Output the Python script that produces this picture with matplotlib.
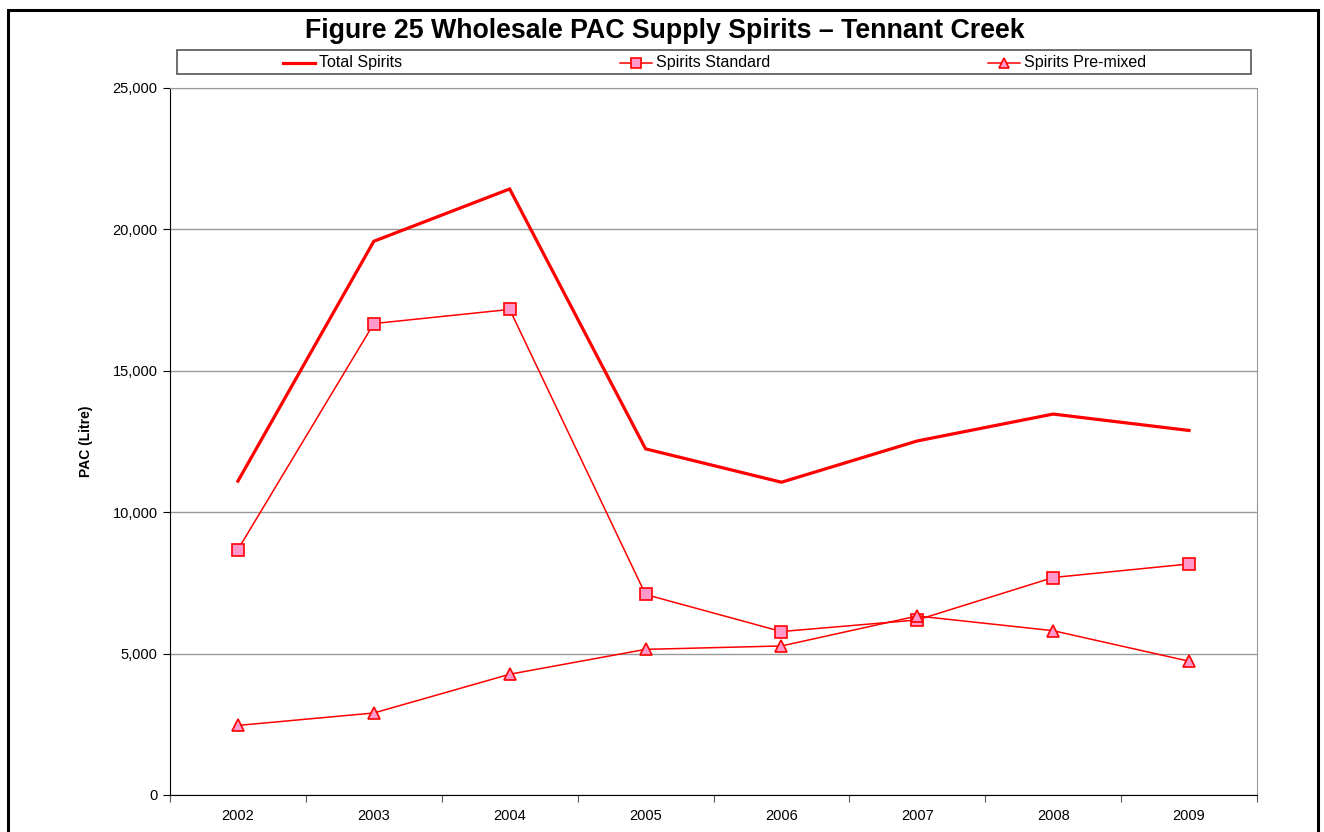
import numpy as np
import matplotlib
matplotlib.use("Agg")
import matplotlib.pyplot as plt
from matplotlib.lines import Line2D
from matplotlib.patches import Rectangle
from matplotlib.ticker import FuncFormatter, FixedLocator

plt.rcParams['font.family'] = ['Liberation Sans', 'DejaVu Sans']

years = ["2002", "2003", "2004", "2005", "2006", "2007", "2008", "2009"]
total_spirits = [11100, 19580, 21430, 12240, 11060, 12520, 13470, 12890]
spirits_standard = [8680, 16670, 17170, 7090, 5780, 6190, 7690, 8170]
spirits_premixed = [2460, 2900, 4270, 5150, 5270, 6330, 5810, 4730]

RED = "#FF0000"
PINK = "#FF99CC"
W, H = 1324, 832

fig = plt.figure(figsize=(W / 100, H / 100), dpi=100)
ax = fig.add_axes([170 / W, 1 - 795 / H, (1257 - 170) / W, (795 - 88) / H])

x = np.arange(len(years))
ax.plot(x, total_spirits, color=RED, lw=2.3, solid_joinstyle="miter", zorder=3)
ax.plot(x, spirits_standard, color=RED, lw=1.1, marker="s", ms=8,
        mfc=PINK, mec=RED, mew=1.2, zorder=3)
ax.plot(x, spirits_premixed, color=RED, lw=1.1, marker="^", ms=8.5,
        mfc=PINK, mec=RED, mew=1.2, zorder=3)

ax.set_xlim(-0.5, len(years) - 0.5)
ax.set_ylim(0, 25000)
ax.set_yticks(np.arange(0, 25001, 5000))
ax.yaxis.set_major_formatter(FuncFormatter(lambda v, p: f"{int(v):,}"))
ax.yaxis.grid(True, color="#999999", lw=1)
ax.set_axisbelow(True)

# ticks between categories, labels centred in each category
ax.xaxis.set_major_locator(FixedLocator(np.arange(-0.5, len(years), 1.0)))
ax.xaxis.set_major_formatter(FuncFormatter(lambda v, p: ""))
ax.xaxis.set_minor_locator(FixedLocator(x))
ax.set_xticklabels(years, minor=True)
ax.tick_params(axis="x", which="major", length=5, direction="out", color="#555555")
ax.tick_params(axis="x", which="minor", length=0, pad=10, labelsize=10.5)
ax.tick_params(axis="y", length=5, direction="out", labelsize=10.5, pad=4)

for s in ["top", "right"]:
    ax.spines[s].set_color("#999999")
for s in ["left", "bottom"]:
    ax.spines[s].set_color("black")

ax.set_ylabel("PAC (Litre)", fontsize=10, fontweight="bold", labelpad=14)

fig.text(665 / W, 1 - 31 / H, "Figure 25 Wholesale PAC Supply Spirits \u2013 Tennant Creek",
         ha="center", va="center", fontsize=19.3, fontweight="bold")

# outer frame
fig.patches.append(Rectangle((8 / W, -0.05), (1318 - 8) / W, 1.05 - 10 / H,
                             transform=fig.transFigure, fill=False,
                             ec="black", lw=2.2, clip_on=False))

# legend box
fig.patches.append(Rectangle((177 / W, 1 - 74 / H), (1251 - 177) / W, 24 / H,
                             transform=fig.transFigure, fill=False,
                             ec="#555555", lw=1.2))
leg_y = 1 - 63 / H
entries = [
    ("Total Spirits", 283, dict(lw=2.3)),
    ("Spirits Standard", 620, dict(lw=1.1, marker="s", ms=7, mfc=PINK, mec=RED, mew=1.2)),
    ("Spirits Pre-mixed", 988, dict(lw=1.1, marker="^", ms=7.5, mfc=PINK, mec=RED, mew=1.2)),
]
for label, x0, style in entries:
    fig.add_artist(Line2D([x0 / W, (x0 + 16) / W, (x0 + 32) / W], [leg_y] * 3,
                          color=RED, transform=fig.transFigure, markevery=[1], **style))
    fig.text((x0 + 36) / W, leg_y, label, ha="left", va="center", fontsize=11.5)

fig.savefig("out.png", dpi=100)
